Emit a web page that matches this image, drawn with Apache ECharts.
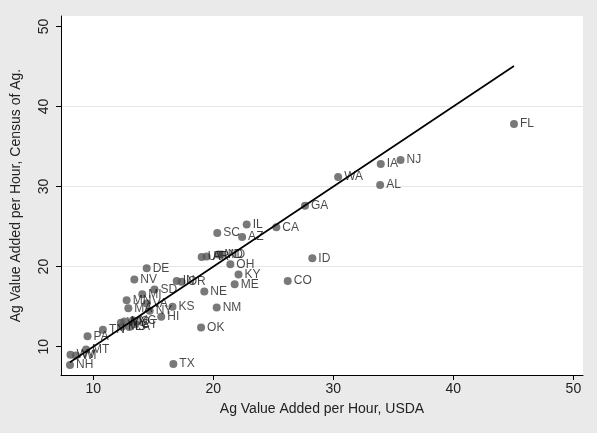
<!DOCTYPE html>
<html>
<head>
<meta charset="utf-8">
<script src="https://cdn.jsdelivr.net/npm/echarts@6/dist/echarts.min.js"></script>
<style>
  html, body { margin: 0; padding: 0; background: #EAEAEA; }
  #chart { width: 597px; height: 433px; }
</style>
</head>
<body>
<div id="chart"></div>
<script>
const states = ['FL','NJ','IA','AL','WA','GA','IL','CA','SC','AZ','ID','OH','KY','ME','CO','NE','NM','OK','TX',
  'KS','HI','NY','VA','SD','MI','MN','MA','DE','NV','IN','OR','UT','AR','MD','ND','TN','PA','MT','WV','WI','NH',
  'WY','MO','MS','LA','CT','NC'];
const usda = [45.05, 35.6, 33.95, 33.9, 30.4, 27.64, 22.78, 25.25, 20.33, 22.4, 28.25, 21.42, 22.1, 21.78, 26.2, 19.25, 20.28, 18.98, 16.67,
  16.6, 15.66, 14.7, 14.45, 15.1, 14.08, 12.78, 12.92, 14.45, 13.42, 16.95, 17.36, 19.03, 19.44, 20.42, 20.7, 10.8, 9.52, 9.4, 8.1, 8.55, 8.06,
  12.3, 12.6, 12.4, 13.0, 13.5, 13.3];
const census = [37.8, 33.3, 32.8, 30.2, 31.2, 27.6, 25.25, 24.9, 24.2, 23.7, 21.05, 20.3, 19.0, 17.8, 18.2, 16.9, 14.9, 12.4, 7.84,
  15.0, 13.75, 14.5, 15.4, 17.15, 16.55, 15.8, 14.8, 19.8, 18.4, 18.2, 18.1, 21.2, 21.25, 21.5, 21.5, 12.1, 11.3, 9.65, 9.0, 8.9, 7.7,
  13.0, 13.15, 12.5, 12.45, 12.8, 13.3];
const xTicks = [10, 20, 30, 40, 50];
const yTicks = [10, 20, 30, 40, 50];
const xTitle = 'Ag Value Added per Hour, USDA';
const yTitle = 'Ag Value Added per Hour, Census of Ag.';

const points = states.map((s, i) => ({ name: s, value: [usda[i], census[i]] }));
const lo = Math.min(...usda), hi = Math.max(...usda);
const diag = [[lo, lo], [hi, hi]];

const font = '"Liberation Sans", Arial, Helvetica, sans-serif';
const chart = echarts.init(document.getElementById('chart'), null, { renderer: 'canvas' });
chart.setOption({
  animation: false,
  backgroundColor: '#EAEAEA',
  textStyle: { fontFamily: font },
  grid: { left: 61, right: 14, top: 16, bottom: 58, show: true, backgroundColor: '#ffffff', borderWidth: 0 },
  xAxis: {
    type: 'value', min: 7.31, max: 50.8,
    name: xTitle, nameLocation: 'middle', nameGap: 27,
    nameTextStyle: { fontSize: 14, color: '#222', fontFamily: font },
    axisLine: { show: true, onZero: false, lineStyle: { color: '#000', width: 1 } },
    axisTick: { show: true, length: 5, lineStyle: { color: '#000' }, customValues: xTicks },
    axisLabel: { fontSize: 14, color: '#222', margin: 7, customValues: xTicks, fontFamily: font },
    splitLine: { show: false }
  },
  yAxis: {
    type: 'value', min: 6.46, max: 51.3,
    name: yTitle, nameLocation: 'middle', nameGap: 38,
    nameTextStyle: { fontSize: 14, color: '#222', fontFamily: font },
    axisLine: { show: true, onZero: false, lineStyle: { color: '#000', width: 1 } },
    axisTick: { show: true, length: 5, lineStyle: { color: '#000' }, customValues: yTicks },
    axisLabel: { fontSize: 14, color: '#222', margin: 10, rotate: 90, customValues: yTicks, fontFamily: font },
    splitLine: { show: true, showMinLine: false, showMaxLine: false, lineStyle: { color: '#E6E6E6', width: 1 } }
  },
  series: [
    {
      type: 'scatter',
      data: points,
      symbolSize: 8,
      itemStyle: { color: '#575757' },
      label: {
        show: true, position: 'right', distance: 2,
        formatter: p => p.name,
        fontSize: 12, color: '#1a1a1a', fontFamily: font
      }
    },
    {
      type: 'line',
      data: diag,
      symbol: 'none',
      lineStyle: { color: '#000', width: 1.7 },
      z: 3
    }
  ]
});
</script>
</body>
</html>
